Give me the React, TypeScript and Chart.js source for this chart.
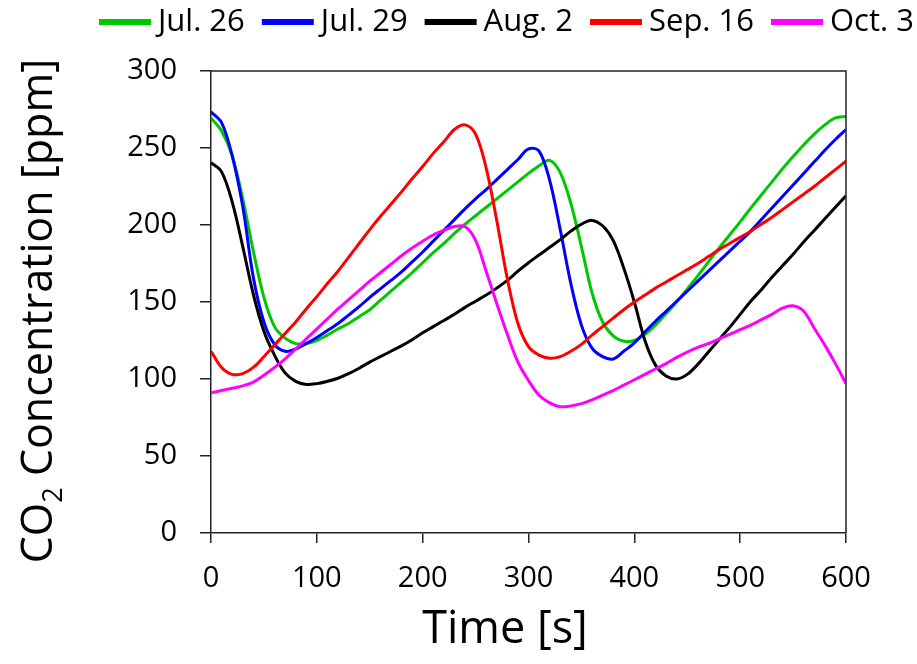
import React, { useEffect, useRef } from "react";
import { Chart, registerables } from "chart.js";

Chart.register(...registerables);

// Time axis (s)
const TIME = [
  0, 10, 20, 30, 40, 50, 60, 70, 80, 90,
  100, 110, 120, 130, 140, 150, 160, 170, 180, 190,
  200, 210, 220, 230, 240, 250, 260, 270, 280, 290,
  300, 310, 320, 330, 340, 350, 360, 370, 380, 390,
  400, 410, 420, 430, 440, 450, 460, 470, 480, 490,
  500, 510, 520, 530, 540, 550, 560, 570, 580, 590,
  600,
];

// CO2 concentration (ppm)
const JUL26 = [
  269.5, 261, 245, 217, 183, 153, 134, 126.5, 123, 123,
  125, 128.5, 132.5, 136, 140.5, 145, 151, 157, 163, 169,
  175.5, 182, 188, 194.5, 200.5, 206, 211.5, 217, 222.5, 228,
  233.5, 238.5, 242, 234, 214, 186, 156, 137, 128, 124.5,
  125, 129, 135, 142.5, 150, 158.5, 167, 176, 185, 193.5,
  202, 211, 219.5, 228, 236.5, 244.5, 252, 259, 265, 269.5,
  270.5,
];
const JUL29 = [
  273.5, 266.5, 245, 212, 166, 137, 122.5, 118, 119.5, 123,
  127, 131.5, 136, 141.5, 147, 153, 158.5, 164, 169.5, 176,
  182.5, 189.5, 196.5, 203.5, 210.5, 217, 223, 229.5, 236, 242.5,
  249.5, 248, 229, 197, 162, 135, 120, 114.5, 113, 118,
  123.5, 130.5, 137.5, 144, 150.5, 157, 163.5, 170, 176.5, 183,
  189.5, 196, 203.5, 211, 218.5, 226, 233.5, 241, 248.5, 255.5,
  262,
];
const AUG2 = [
  240.5, 234.5, 215, 186, 155, 131, 115.5, 104, 98.5, 96.5,
  97, 98.5, 100.5, 103.5, 107, 111, 114.5, 118, 121.5, 125.5,
  130, 134, 138, 142, 146.5, 150.5, 154.5, 159, 164, 170,
  175.5, 180.5, 185.5, 190.5, 196, 200.5, 203, 199.5, 190, 172,
  150, 125, 109, 102, 100, 103, 109.5, 117.5, 125.5, 133.5,
  142, 150.5, 158, 166, 173.5, 181, 189, 196.5, 204, 211.5,
  219,
];
const SEP16 = [
  118, 107.5, 103, 103.5, 107.5, 114.5, 122, 129.5, 137, 145.5,
  153.5, 162, 170, 179, 188, 197, 205.5, 213.5, 221.5, 230,
  238, 246.5, 254, 262, 265, 259, 237, 203, 165, 136,
  121, 115.5, 113.5, 114.5, 118, 122.5, 128.5, 134, 139.5, 145,
  150, 154.5, 159, 163, 167, 171, 175, 179.5, 184, 188,
  192, 196, 200.5, 205, 210, 215, 220, 225, 230.5, 236,
  241.5,
];
const OCT3 = [
  91, 92.5, 94, 95.5, 98, 102.5, 107.5, 113, 119.5, 126,
  132.5, 139, 145.5, 151.5, 157.5, 163.5, 169, 174.5, 180, 185,
  189.5, 193.5, 196.5, 199, 199, 190, 170, 149, 129, 111,
  99, 89.5, 84.5, 82, 82.5, 84, 86.5, 89.5, 92.5, 96,
  99.5, 103, 106.5, 110, 114, 117.5, 120.5, 123, 126, 129,
  132, 135, 138.5, 142, 146, 147.5, 144, 133, 122, 110,
  97,
];

const SERIES_LABELS = ["Jul. 26", "Jul. 29", "Aug. 2", "Sep. 16", "Oct. 3"];
const SERIES_VALUES = [JUL26, JUL29, AUG2, SEP16, OCT3];
const SERIES_COLORS = ["#00C800", "#0000FF", "#000000", "#FF0000", "#FF00FF"];

const X_MIN = 0;
const X_MAX = 600;
const X_STEP = 100;
const Y_MIN = 0;
const Y_MAX = 300;
const Y_STEP = 50;

const X_TITLE = "Time [s]";
const Y_TITLE_A = "CO";
const Y_TITLE_SUB = "2";
const Y_TITLE_B = " Concentration [ppm]";

const FONT = '"Open Sans", "Noto Sans", sans-serif';
const AXIS_COLOR = "#222222";

const decorPlugin = {
  id: "decor",
  afterDraw(chart: any) {
    const { ctx, chartArea: a } = chart;
    ctx.save();
    // top and right frame
    ctx.strokeStyle = AXIS_COLOR;
    ctx.lineWidth = 1.5;
    ctx.beginPath();
    ctx.moveTo(a.left, a.top);
    ctx.lineTo(a.right, a.top);
    ctx.lineTo(a.right, a.bottom);
    ctx.stroke();

    // legend
    ctx.font = `31px ${FONT}`;
    ctx.textBaseline = "alphabetic";
    ctx.textAlign = "left";
    let x = 99;
    chart.data.datasets.forEach((ds: any) => {
      ctx.fillStyle = ds.borderColor;
      ctx.fillRect(x, 19, 52, 6);
      x += 52 + 7;
      ctx.fillStyle = "#000";
      ctx.fillText(ds.label, x, 31);
      x += ctx.measureText(ds.label).width + 17;
    });

    // x title
    ctx.font = `45px ${FONT}`;
    ctx.textAlign = "center";
    ctx.fillStyle = "#000";
    ctx.fillText(X_TITLE, 505, 643);

    // y title with subscript
    ctx.translate(52, 311);
    ctx.rotate(-Math.PI / 2);
    ctx.textAlign = "left";
    ctx.font = `43px ${FONT}`;
    const wA = ctx.measureText(Y_TITLE_A).width;
    const wB = ctx.measureText(Y_TITLE_B).width;
    ctx.font = `27px ${FONT}`;
    const wS = ctx.measureText(Y_TITLE_SUB).width;
    const total = wA + wS + wB;
    let tx = -total / 2;
    ctx.font = `43px ${FONT}`;
    ctx.fillText(Y_TITLE_A, tx, 0);
    tx += wA;
    ctx.font = `27px ${FONT}`;
    ctx.fillText(Y_TITLE_SUB, tx, 10);
    tx += wS;
    ctx.font = `43px ${FONT}`;
    ctx.fillText(Y_TITLE_B, tx, 0);
    ctx.restore();
  },
};

export default function App() {
  const canvasRef = useRef<HTMLCanvasElement | null>(null);

  useEffect(() => {
    const canvas = canvasRef.current;
    if (!canvas) return;
    const datasets = SERIES_LABELS.map((label, i) => ({
      label,
      data: TIME.map((t, j) => ({ x: t, y: SERIES_VALUES[i][j] })),
      borderColor: SERIES_COLORS[i],
      backgroundColor: SERIES_COLORS[i],
      borderWidth: 3,
      pointRadius: 0,
      fill: false,
      tension: 0.35,
      order: SERIES_LABELS.length - i,
    }));

    const chart = new Chart(canvas, {
      type: "line",
      data: { datasets },
      options: {
        animation: false,
        responsive: false,
        maintainAspectRatio: false,
        layout: { padding: { left: 0, right: 71, top: 71, bottom: 0 } },
        plugins: {
          legend: { display: false },
          tooltip: { enabled: false },
          title: { display: false },
        },
        scales: {
          x: {
            type: "linear",
            min: X_MIN,
            max: X_MAX,
            afterFit: (s: any) => {
              s.height = 131;
            },
            grid: {
              display: true,
              drawOnChartArea: false,
              drawTicks: true,
              tickLength: 10,
              color: AXIS_COLOR,
              lineWidth: 1.5,
            },
            border: { display: true, color: AXIS_COLOR, width: 1.5 },
            ticks: {
              stepSize: X_STEP,
              font: { family: FONT, size: 29 },
              color: "#000",
              padding: 18,
              maxRotation: 0,
              autoSkip: false,
            },
          },
          y: {
            type: "linear",
            min: Y_MIN,
            max: Y_MAX,
            afterFit: (s: any) => {
              s.width = 211;
            },
            grid: {
              display: true,
              drawOnChartArea: false,
              drawTicks: true,
              tickLength: 11,
              color: AXIS_COLOR,
              lineWidth: 1.5,
            },
            border: { display: true, color: AXIS_COLOR, width: 1.5 },
            ticks: {
              stepSize: Y_STEP,
              font: { family: FONT, size: 29 },
              color: "#000",
              padding: 23,
              autoSkip: false,
            },
          },
        },
      },
      plugins: [decorPlugin],
    });
    return () => chart.destroy();
  }, []);

  return (
    <div style={{ position: "absolute", left: 0, top: 0, width: 917, height: 664, background: "#fff" }}>
      <canvas ref={canvasRef} width={917} height={664} style={{ width: 917, height: 664, display: "block" }} />
    </div>
  );
}
